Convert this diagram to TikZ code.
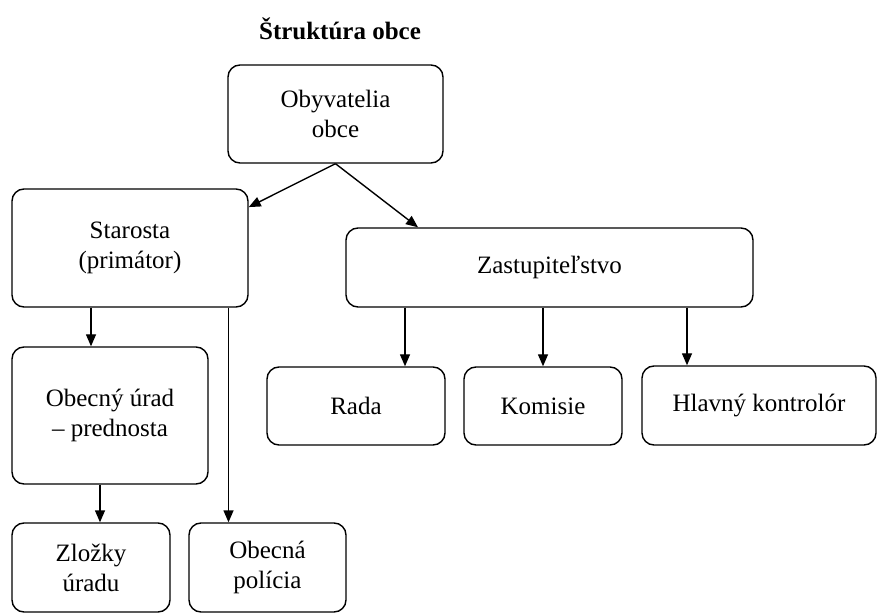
\documentclass[tikz,border=0pt]{standalone}
\usepackage{fontspec}
\setmainfont{Liberation Serif}
\usetikzlibrary{arrows.meta,calc}

\begin{document}
\begin{tikzpicture}[x=0.5pt,y=-0.5pt,
	box/.style={draw,line width=0.7pt,rounded corners=6pt,align=center,inner sep=0pt,
		font=\fontsize{12.5}{15}\selectfont},
	arr/.style={line width=0.7pt,-{Triangle[length=6pt,width=5pt]}}]
		\useasboundingbox (0,0) rectangle (877,614);
		\path (340,29) node (title) {\fontsize{12.5}{15}\selectfont\bfseries Štruktúra obce};
		% top level
		\path (335.5,114) node[box,minimum width=107.5pt,minimum height=49pt] (obyv) {Obyvatelia\\obce};
		\path (130,248) node[box,minimum width=118pt,minimum height=59pt] (starosta) {Starosta\\(primátor)};
		\path (549.5,267.5) node[box,minimum width=203.5pt,minimum height=39.5pt] (zast) {Zastupiteľstvo};
		% below the mayor
		\path (110,415.5) node[box,minimum width=98pt,minimum height=68.5pt] (urad) {Obecný úrad\\– prednosta};
		\path (91,567.5) node[box,minimum width=79pt,minimum height=44.5pt] (zlozky) {Zložky\\úradu};
		\path (267.5,567.5) node[box,minimum width=78.5pt,minimum height=44.5pt] (policia) {Obecná\\polícia};
		% below the council
		\path (356,406) node[box,minimum width=89pt,minimum height=39pt] (rada) {Rada};
		\path (543,406) node[box,minimum width=79pt,minimum height=39pt] (komisie) {Komisie};
		\path (759,405.5) node[box,minimum width=117pt,minimum height=39.5pt] (hlavny) {Hlavný kontrolór};
		% connectors
		\coordinate (p1) at ($(policia.north)+(-39,0)$);
		\coordinate (u1) at ($(urad.south)+(-10,0)$);
		\coordinate (r1) at ($(rada.north)+(49,0)$);
		\coordinate (h1) at ($(hlavny.north)+(-72,0)$);
		\draw[arr] (obyv.south) -- (starosta.19);
		\draw[arr] (obyv.south) -- (zast.163);
		\draw[arr] (starosta.south -| zlozky.north) -- (urad.north -| zlozky.north);
		\draw[arr] (u1) -- (zlozky.north -| u1);
		\draw[arr] (starosta.south -| p1) -- (p1);
		\draw[arr] (zast.south -| r1) -- (r1);
		\draw[arr] (zast.south -| komisie.north) -- (komisie.north);
		\draw[arr] (zast.south -| h1) -- (h1);
\end{tikzpicture}
\end{document}
